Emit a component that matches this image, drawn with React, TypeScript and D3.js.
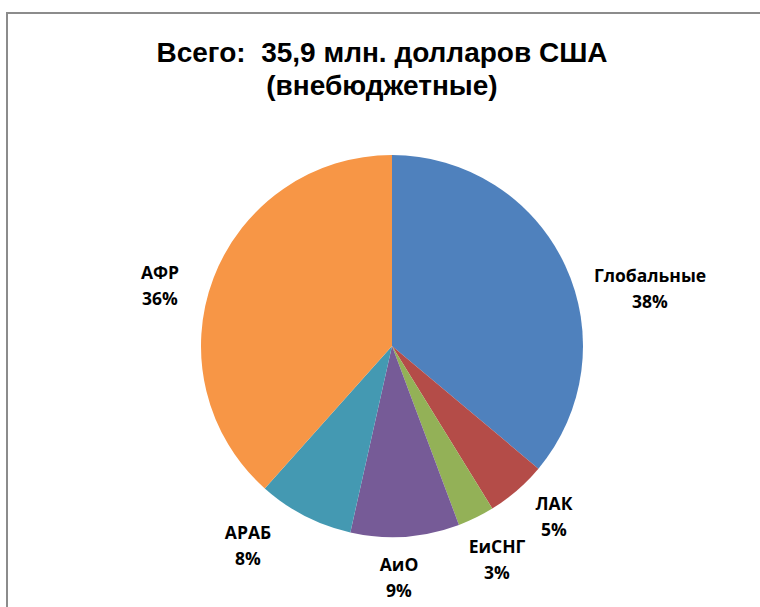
import React, { useEffect, useRef } from 'react'
import * as d3 from 'd3'

const categories = ['Глобальные', 'ЛАК', 'ЕиСНГ', 'АиО', 'АРАБ', 'АФР']
// slice sizes as measured from the angles in the picture
const values = [36.1, 5.1, 3.1, 9.2, 8.1, 38.4]
// percent labels as printed on the chart
const percentLabels = ['38%', '5%', '3%', '9%', '8%', '36%']
const colors = ['#4F81BD', '#B44C48', '#93B157', '#765B97', '#4499B2', '#F79646']
const titleLines = ['Всего:  35,9 млн. долларов США', '(внебюджетные)']

const W = 760
const H = 607

const App = () => {
  const ref = useRef<SVGSVGElement>(null)

  useEffect(() => {
    const svg = d3.select(ref.current)
    svg.selectAll('*').remove()

    // chart frame (runs off the right and bottom of the picture)
    svg.append('rect')
      .attr('x', 7).attr('y', 13)
      .attr('width', W + 20).attr('height', H + 20)
      .attr('fill', '#fff')
      .attr('stroke', '#8c8c8c')
      .attr('stroke-width', 2)

    const title = svg.append('text')
      .attr('text-anchor', 'middle')
      .attr('font-family', '"Liberation Sans", Arial, sans-serif')
      .attr('font-weight', 'bold')
      .attr('font-size', 28)
      .attr('fill', '#000')
      .style('white-space', 'pre')
    titleLines.forEach((t, i) => {
      title.append('tspan').attr('x', 382).attr('y', 62 + i * 33).text(t)
    })

    const cx = 392, cy = 346, r = 191
    const pie = d3.pie<number>().sort(null).value(d => d)
    const arcs = pie(values)
    const arc = d3.arc<d3.PieArcDatum<number>>().innerRadius(0).outerRadius(r)

    const g = svg.append('g').attr('transform', `translate(${cx},${cy})`)
    g.selectAll('path').data(arcs).enter().append('path')
      .attr('d', arc)
      .attr('fill', (d, i) => colors[i])

    // where each label block is centred, relative to the pie centre
    const labelAnchors = [[258, -58], [162, 170], [105, 213], [7, 231], [-144, 199], [-232, -61]]

    const labels = g.selectAll('text.lbl').data(arcs).enter().append('text')
      .attr('class', 'lbl')
      .attr('text-anchor', 'middle')
      .attr('font-family', '"Open Sans", "Noto Sans", sans-serif')
      .attr('font-weight', 700)
      .attr('font-size', 17.5)
      .attr('fill', '#000')
      .attr('transform', (d, i) => `translate(${labelAnchors[i][0]},${labelAnchors[i][1]})`)
    labels.append('tspan').attr('x', 0).attr('y', -6).text((d, i) => categories[i])
    labels.append('tspan').attr('x', 0).attr('y', 20).text((d, i) => percentLabels[i])
  }, [])

  return (
    <svg ref={ref} width={W} height={H} style={{ position: 'absolute', left: 0, top: 0 }} />
  )
}

export default App
